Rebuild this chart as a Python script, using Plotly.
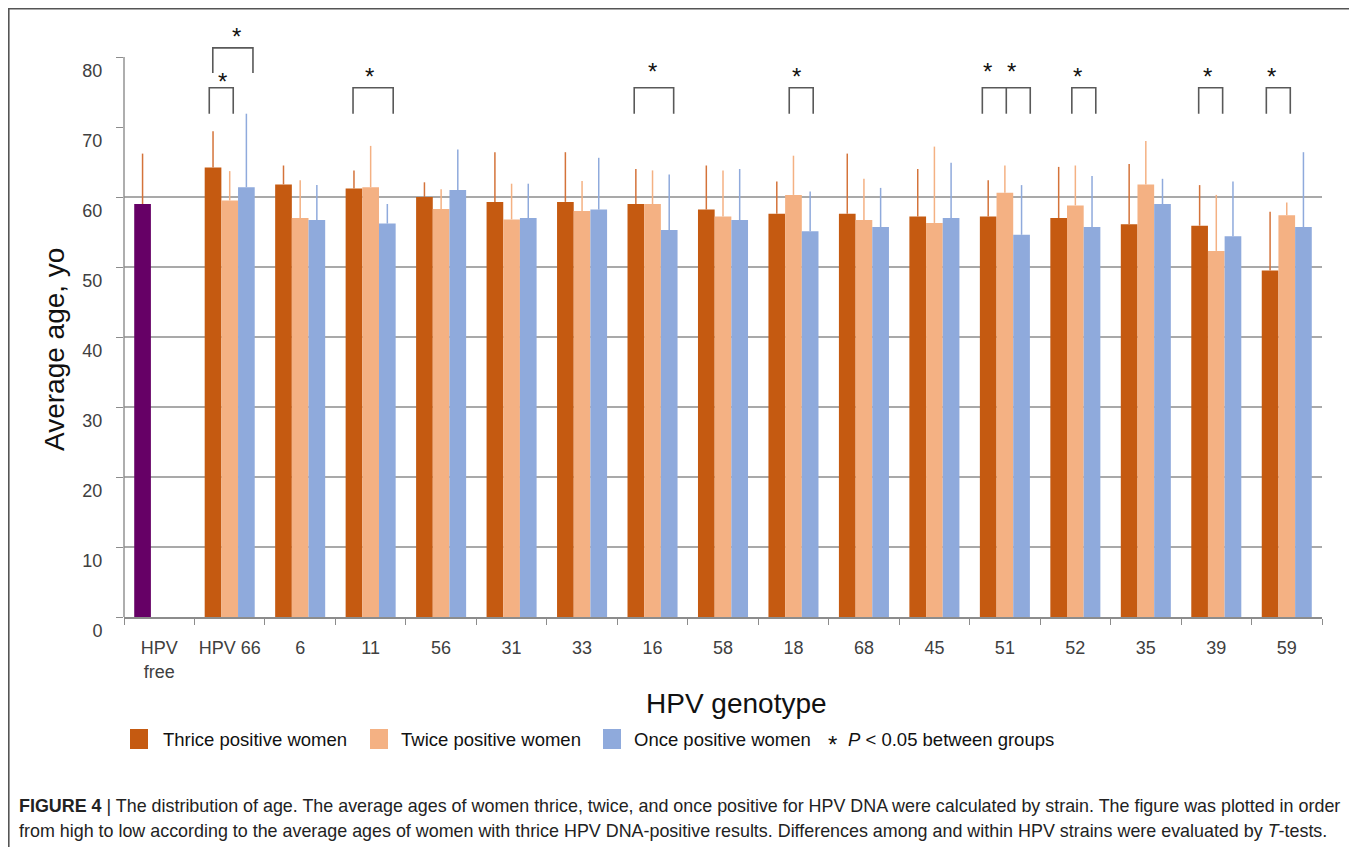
import plotly.graph_objects as go

# ---------------- data ----------------
categories = ["HPV<br>free", "HPV 66", "6", "11", "56", "31", "33", "16", "58",
              "18", "68", "45", "51", "52", "35", "39", "59"]

thrice = [59.0, 64.2, 61.8, 61.2, 60.0, 59.3, 59.3, 59.0, 58.2, 57.6, 57.6, 57.2, 57.2, 57.0, 56.1, 55.9, 49.5]
thrice_sd = [7.2, 5.2, 2.7, 2.6, 2.1, 7.1, 7.1, 5.0, 6.3, 4.6, 8.6, 6.8, 5.2, 7.3, 8.6, 5.8, 8.4]

twice = [None, 59.5, 57.0, 61.4, 58.3, 56.8, 58.0, 59.0, 57.2, 60.3, 56.7, 56.3, 60.6, 58.8, 61.8, 52.3, 57.4]
twice_sd = [None, 4.2, 5.4, 5.9, 2.8, 5.1, 4.3, 4.8, 6.6, 5.6, 5.9, 10.9, 3.9, 5.7, 6.2, 8.0, 1.8]

once = [None, 61.4, 56.7, 56.2, 61.0, 57.0, 58.2, 55.3, 56.7, 55.1, 55.7, 57.0, 54.6, 55.7, 59.0, 54.4, 55.7]
once_sd = [None, 10.5, 5.0, 2.8, 5.8, 4.9, 7.4, 7.9, 7.3, 5.7, 5.6, 7.9, 7.1, 7.3, 3.6, 7.8, 10.7]

y_ticks = [0, 10, 20, 30, 40, 50, 60, 70, 80]
grid_vals = [10, 20, 30, 40, 50, 60]

series_names = ["Thrice positive women", "Twice positive women", "Once positive women"]

# significance brackets: (category index, left offset, right offset, top, bottom, extra middle leg)
brackets = [
    (1, -0.29, 0.05, 75.6, 71.9, None),
    (1, -0.24, 0.33, 81.3, 77.7, None),
    (3, -0.25, 0.32, 75.6, 71.9, None),
    (7, -0.26, 0.30, 75.6, 71.9, None),
    (9, -0.06, 0.28, 75.6, 71.9, None),
    (12, -0.32, 0.36, 75.6, 71.9, 0.02),
    (13, -0.05, 0.29, 75.6, 71.9, None),
    (15, -0.25, 0.09, 75.6, 71.9, None),
    (16, -0.29, 0.05, 75.6, 71.9, None),
]
# stars: (category index, offset, y)
stars = [
    (1, -0.10, 77.0), (1, 0.10, 83.4), (3, -0.02, 77.7), (7, 0.0, 78.4),
    (9, 0.05, 77.7), (12, -0.24, 78.4), (12, 0.10, 78.4), (13, 0.03, 77.7),
    (15, -0.13, 77.7), (16, -0.22, 77.7),
]

# ---------------- style ----------------
C_THRICE = "#C55A11"
C_TWICE = "#F4B183"
C_ONCE = "#8FAADC"
C_FREE = "#660066"
E_THRICE = "#D4733A"
GRID = "#8C8C8C"
FONT = "Liberation Sans, Arial, sans-serif"

OFF = 8  # page body margin
W, H = 1349, 860
ML = 124 - OFF
MT = 20 - OFF
MR = W - (1322 - OFF)
MB = H - (617 - OFF)
PW, PH = W - ML - MR, H - MT - MB
YMAX = 80 * PH / (617 - 57)


def px(x):  # page pixel -> paper x
    return (x - OFF - ML) / PW


def py(y):  # page pixel -> paper y
    return (H - MB - (y - OFF)) / PH


fig = go.Figure()

thrice_colors = [C_FREE] + [C_THRICE] * (len(categories) - 1)

fig.add_trace(go.Bar(
    x=categories, y=thrice, name=series_names[0], marker_color=thrice_colors,
    marker_line_width=0,
    error_y=dict(type="data", symmetric=False, array=thrice_sd,
                 arrayminus=[0] * len(thrice), width=0, thickness=1.5, color=E_THRICE),
    showlegend=False,
))
fig.add_trace(go.Bar(
    x=categories, y=twice, name=series_names[1], marker_color=C_TWICE,
    marker_line_width=0,
    error_y=dict(type="data", symmetric=False, array=twice_sd,
                 arrayminus=[0] * len(twice), width=0, thickness=1.5, color=C_TWICE),
    showlegend=False,
))
fig.add_trace(go.Bar(
    x=categories, y=once, name=series_names[2], marker_color=C_ONCE,
    marker_line_width=0,
    error_y=dict(type="data", symmetric=False, array=once_sd,
                 arrayminus=[0] * len(once), width=0, thickness=1.5, color=C_ONCE),
    showlegend=False,
))

shapes = []
for g in grid_vals:
    shapes.append(dict(type="line", xref="paper", yref="y", x0=0, x1=1, y0=g, y1=g,
                       line=dict(color=GRID, width=1.6), layer="below"))
shapes.append(dict(type="line", xref="paper", yref="y", x0=0, x1=0, y0=0, y1=80,
                   line=dict(color=GRID, width=1.4)))
for (ci, lo, ro, top, bot, mid) in brackets:
    x0, x1 = ci + lo, ci + ro
    shapes.append(dict(type="path", xref="x", yref="y",
                       path=f"M {x0} {bot} L {x0} {top} L {x1} {top} L {x1} {bot}",
                       line=dict(color="#595959", width=1.6)))
    if mid is not None:
        shapes.append(dict(type="line", xref="x", yref="y", x0=ci + mid, x1=ci + mid,
                           y0=bot, y1=top, line=dict(color="#595959", width=1.6)))
# outer frame (figure border)
shapes.append(dict(type="rect", xref="paper", yref="paper",
                   x0=px(8.8), x1=px(1355.8), y0=py(8.8), y1=py(900),
                   line=dict(color="#555555", width=1.6)))
# legend swatches
for x0, col in [(130, C_THRICE), (370, C_TWICE), (603, C_ONCE)]:
    shapes.append(dict(type="rect", xref="paper", yref="paper",
                       x0=px(x0), x1=px(x0 + 18), y0=py(729), y1=py(749),
                       fillcolor=col, line=dict(width=0)))

annotations = []
for (ci, off, yy) in stars:
    annotations.append(dict(x=ci + off, y=yy, xref="x", yref="y", text="*",
                            showarrow=False, yshift=-3,
                            font=dict(family=FONT, size=24, color="#111111")))

for x0, txt in [(161, series_names[0]), (399, series_names[1]), (632, series_names[2])]:
    annotations.append(dict(x=px(x0), y=py(740), xref="paper", yref="paper", text=txt,
                            showarrow=False, xanchor="left", yanchor="middle",
                            font=dict(family=FONT, size=18.5, color="#111111")))
annotations.append(dict(x=px(826), y=py(745), xref="paper", yref="paper", text="*",
                        showarrow=False, xanchor="left", yanchor="middle",
                        font=dict(family=FONT, size=24, color="#111111")))
annotations.append(dict(x=px(846), y=py(739), xref="paper", yref="paper",
                        text="<i>P</i> < 0.05 between groups",
                        showarrow=False, xanchor="left", yanchor="middle",
                        font=dict(family=FONT, size=18.5, color="#111111")))

annotations.append(dict(x=px(55), y=py(350), xref="paper", yref="paper", text="Average age, yo",
                        textangle=-90, showarrow=False, xanchor="center", yanchor="middle",
                        font=dict(family=FONT, size=28, color="#111111")))
annotations.append(dict(x=px(736), y=py(703), xref="paper", yref="paper", text="HPV genotype",
                        showarrow=False, xanchor="center", yanchor="middle",
                        font=dict(family=FONT, size=28, color="#111111")))

cap1 = ("<b>FIGURE 4</b> | The distribution of age. The average ages of women thrice, twice, and once "
        "positive for HPV DNA were calculated by strain. The figure was plotted in order")
cap2 = ("from high to low according to the average ages of women with thrice HPV DNA-positive "
        "results. Differences among and within HPV strains were evaluated by <i>T</i>-tests.")
for yy, txt in [(806, cap1), (831, cap2)]:
    annotations.append(dict(x=px(17), y=py(yy), xref="paper", yref="paper", text=txt,
                            showarrow=False, xanchor="left", yanchor="middle",
                            font=dict(family=FONT, size=17.9, color="#222222")))

fig.update_layout(
    width=W, height=H,
    margin=dict(l=ML, r=MR, t=MT, b=MB, autoexpand=False),
    paper_bgcolor="white", plot_bgcolor="white",
    barmode="group", bargap=0.29, bargroupgap=0,
    shapes=shapes, annotations=annotations,
    showlegend=False,
    font=dict(family=FONT, color="#404040"),
)
fig.update_xaxes(
    type="category", showline=True, linecolor=GRID, linewidth=1.6,
    ticks="outside", tickson="boundaries", ticklen=6, tickcolor=GRID, tickwidth=1.2,
    tickfont=dict(family=FONT, size=18, color="#404040"), tickangle=0,
    ticklabelstandoff=14, showgrid=False, zeroline=False,
)
fig.update_yaxes(
    range=[0, YMAX], tickvals=y_ticks, ticktext=[str(v) for v in y_ticks],
    ticks="outside", ticklen=7, tickcolor=GRID, tickwidth=1.2,
    tickfont=dict(family=FONT, size=18, color="#404040"),
    ticklabelstandoff=10, ticklabelshift=14,
    showgrid=False, zeroline=False, showline=False,
)

fig.write_html("out.html")
